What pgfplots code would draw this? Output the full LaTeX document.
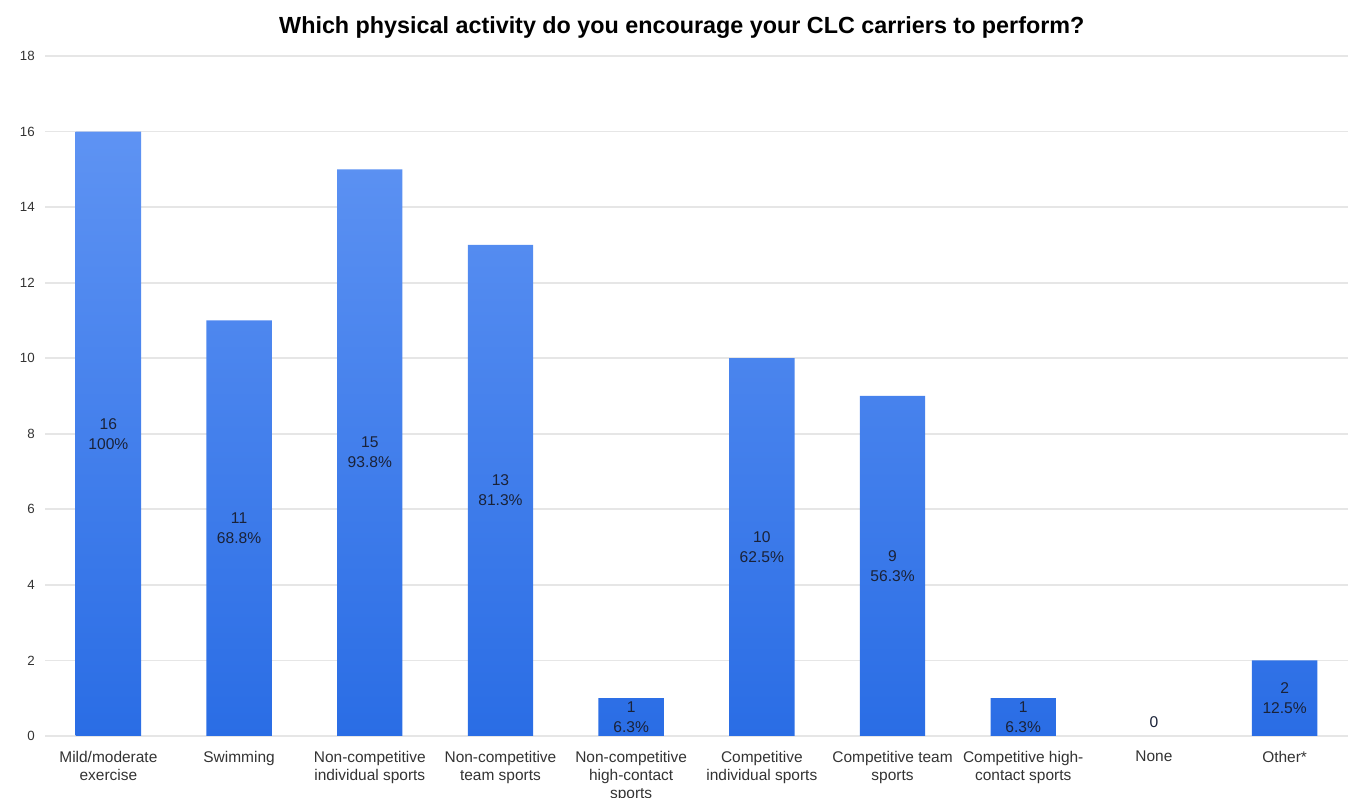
\documentclass[border=0pt]{standalone}
\usepackage{pgfplots}
\pgfplotsset{compat=1.18}
\usepackage{fontspec}
\setmainfont{Liberation Sans}
\definecolor{bartop}{HTML}{5E93F3}
\definecolor{barbot}{HTML}{2A6DE5}
\definecolor{lbl}{HTML}{1A2238}
\definecolor{tickc}{HTML}{333333}
\definecolor{gridc}{HTML}{E6E6E6}
\begin{document}
\begin{tikzpicture}
\begin{axis}[
  scale only axis,
  width=977.25pt, height=510pt,
  xmin=-0.485, xmax=9.485, ymin=0, ymax=18,
  ytick={0,2,...,18},
  xtick={0,...,9},
  xticklabels={Mild/moderate\\exercise, Swimming, Non-competitive\\individual sports, Non-competitive\\team sports, Non-competitive\\high-contact\\sports, Competitive\\individual sports, Competitive team\\sports, Competitive high-\\contact sports, None, Other*},
  xticklabel style={align=center, font=\fontsize{11.6pt}{13.5pt}\selectfont, text=tickc, inner sep=0pt, yshift=-11pt},
  yticklabel style={font=\fontsize{10pt}{12pt}\selectfont, text=tickc, inner sep=0pt, xshift=-7.5pt},
  /pgf/number format/assume math mode=true,
  axis line style={draw=none},
  major tick length=0pt,
  ymajorgrids,
  major grid style={draw=gridc, line width=1.4pt},
  title={Which physical activity do you encourage your CLC carriers to perform?},
  title style={font=\bfseries\fontsize{17.5pt}{20pt}\selectfont, text=black, at={(0.5,1)}, anchor=center, yshift=15pt, xshift=-11pt},
  clip=false,
]
\coordinate (sw) at (rel axis cs:0,0);
\coordinate (ne) at (rel axis cs:1,1);
\addplot[ybar, bar width=0.5, draw=none, top color=bartop, bottom color=barbot]
  coordinates {(0,16) (1,11) (2,15) (3,13) (4,1) (5,10) (6,9) (7,1) (9,2)};
\addplot[only marks, mark=none, point meta=explicit symbolic, nodes near coords,
  nodes near coords style={anchor=center, align=center, inner sep=0pt, text=lbl, font=\fontsize{11.7pt}{15pt}\selectfont}]
  coordinates {(0,8) [16\\100\%] (1,5.5) [11\\68.8\%] (2,7.5) [15\\93.8\%] (3,6.5) [13\\81.3\%]
    (4,0.5) [1\\6.3\%] (5,5) [10\\62.5\%] (6,4.5) [9\\56.3\%] (7,0.5) [1\\6.3\%]
    (8,0.37) [0] (9,1) [2\\12.5\%]};
\end{axis}
\pgfresetboundingbox
\path[use as bounding box] ([xshift=-33.75pt, yshift=-46.5pt]sw) rectangle ([xshift=5.25pt, yshift=42pt]ne);
\end{tikzpicture}
\end{document}
